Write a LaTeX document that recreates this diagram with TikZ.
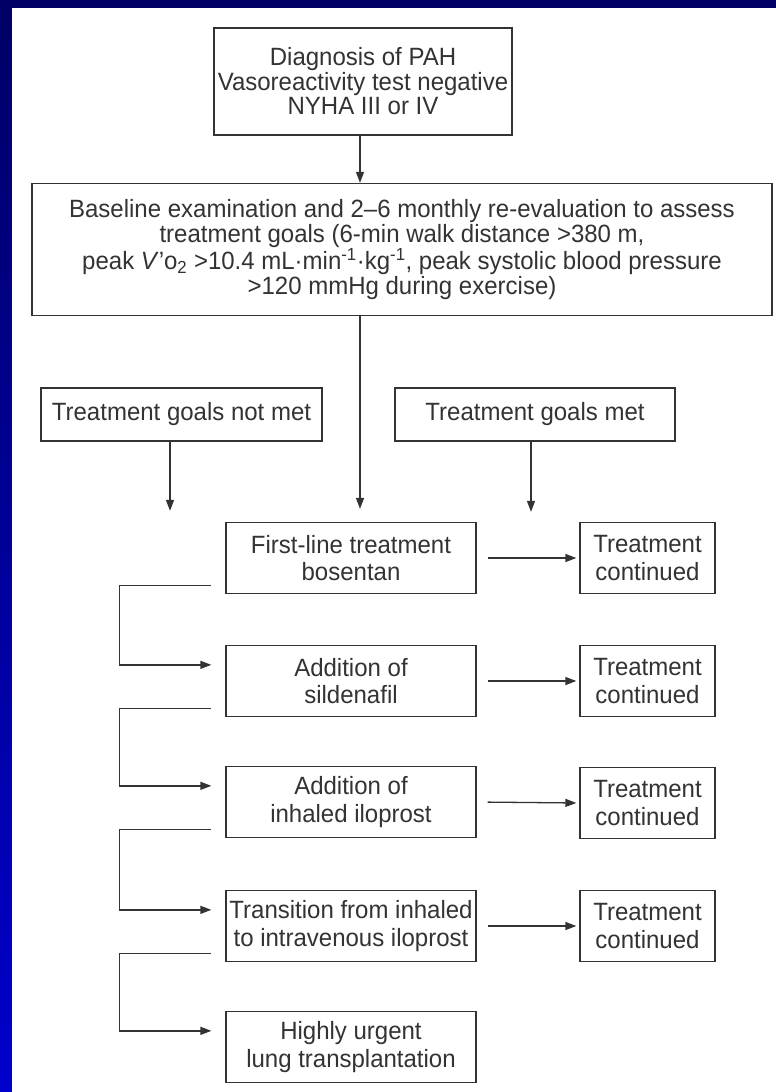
\documentclass[tikz,border=0pt]{standalone}
\usepackage{fontspec}
\setmainfont{Liberation Sans}[FakeStretch=0.96]
\usetikzlibrary{arrows.meta}
\definecolor{navytop}{HTML}{000066}
\definecolor{bluebot}{HTML}{0000CC}
\definecolor{ink}{HTML}{333333}
\begin{document}
\begin{tikzpicture}[x=1pt,y=-1pt,
  box/.style={draw=ink,line width=1.3pt,rectangle,align=center,inner sep=0pt,
    text=ink,font=\fontsize{25}{27.5}\selectfont},
  topbox/.style={box,font=\fontsize{25}{24.5}\selectfont},
  link/.style={draw=ink,line width=1.3pt},
  arr/.style={link,-{Triangle[length=11pt,width=8pt]}}]
\useasboundingbox (0,0) rectangle (776,1092);
% slide background and white panel
\shade[top color=navytop,bottom color=bluebot] (0,0) rectangle (776,1092);
\fill[white] (12,8) rectangle (776,1092);

% top of the chart
\node[topbox,minimum width=298pt,minimum height=107pt] (diag) at (363,81.5)
  {Diagnosis of PAH\\Vasoreactivity test negative\\NYHA III or IV};
\node[topbox,minimum width=740pt,minimum height=132pt] (base) at (402,249.5)
  {Baseline examination and 2--6 monthly re-evaluation to assess\\
   treatment goals (6-min walk distance >380 m,\\
   peak \textit{V}'o\textsubscript{2} >10.4 mL·min\textsuperscript{-1}·kg\textsuperscript{-1}, peak systolic blood pressure\\
   >120 mmHg during exercise)};
\coordinate (spine) at (360,0);

% goal outcome boxes
\node[box,minimum width=281pt,minimum height=53pt] (notmet) at (181.5,414.5) {Treatment goals not met};
\node[box,minimum width=280pt,minimum height=53pt] (met) at (535,414.5) {Treatment goals met};

% treatment ladder
\tikzset{step box/.style={box,minimum width=250pt,minimum height=71pt},
         cont box/.style={box,minimum width=135pt,minimum height=71pt}}
\node[step box] (s1) at (351,558) {First-line treatment\\bosentan};
\node[step box] (s2) at (351,681) {Addition of\\sildenafil};
\node[step box] (s3) at (351,802) {Addition of\\inhaled iloprost};
\node[step box] (s4) at (351,926) {Transition from inhaled\\to intravenous iloprost};
\node[step box] (s5) at (351,1047) {Highly urgent\\lung transplantation};
\node[cont box] (c1) at (647.5,558) {Treatment\\continued};
\node[cont box] (c2) at (647.5,681) {Treatment\\continued};
\node[cont box] (c3) at (647.5,803) {Treatment\\continued};
\node[cont box] (c4) at (647.5,926) {Treatment\\continued};

% vertical arrows
\draw[arr] (diag.south -| spine) -- (base.north -| spine);
\draw[arr,shorten >=13pt] (base.south -| spine) -- (s1.north -| spine);
\draw[arr,shorten >=11pt] (notmet.south -| 170,0) -- (s1.north -| 170,0);
\draw[arr,shorten >=10pt] (met.south -| 531,0) -- (s1.north -| 531,0);

% continuation arrows
\foreach \i in {1,...,4}
  \draw[arr,shorten <=11pt,shorten >=3pt] (s\i.east) -- (c\i.west);

% escalation brackets
\foreach \i/\j in {1/2,2/3,3/4,4/5}
  \draw[arr] ([xshift=-14pt,yshift=9pt]s\i.south west) -- ++(-92,0)
    |- ([xshift=-14pt,yshift=-20pt]s\j.north west);
\end{tikzpicture}
\end{document}
